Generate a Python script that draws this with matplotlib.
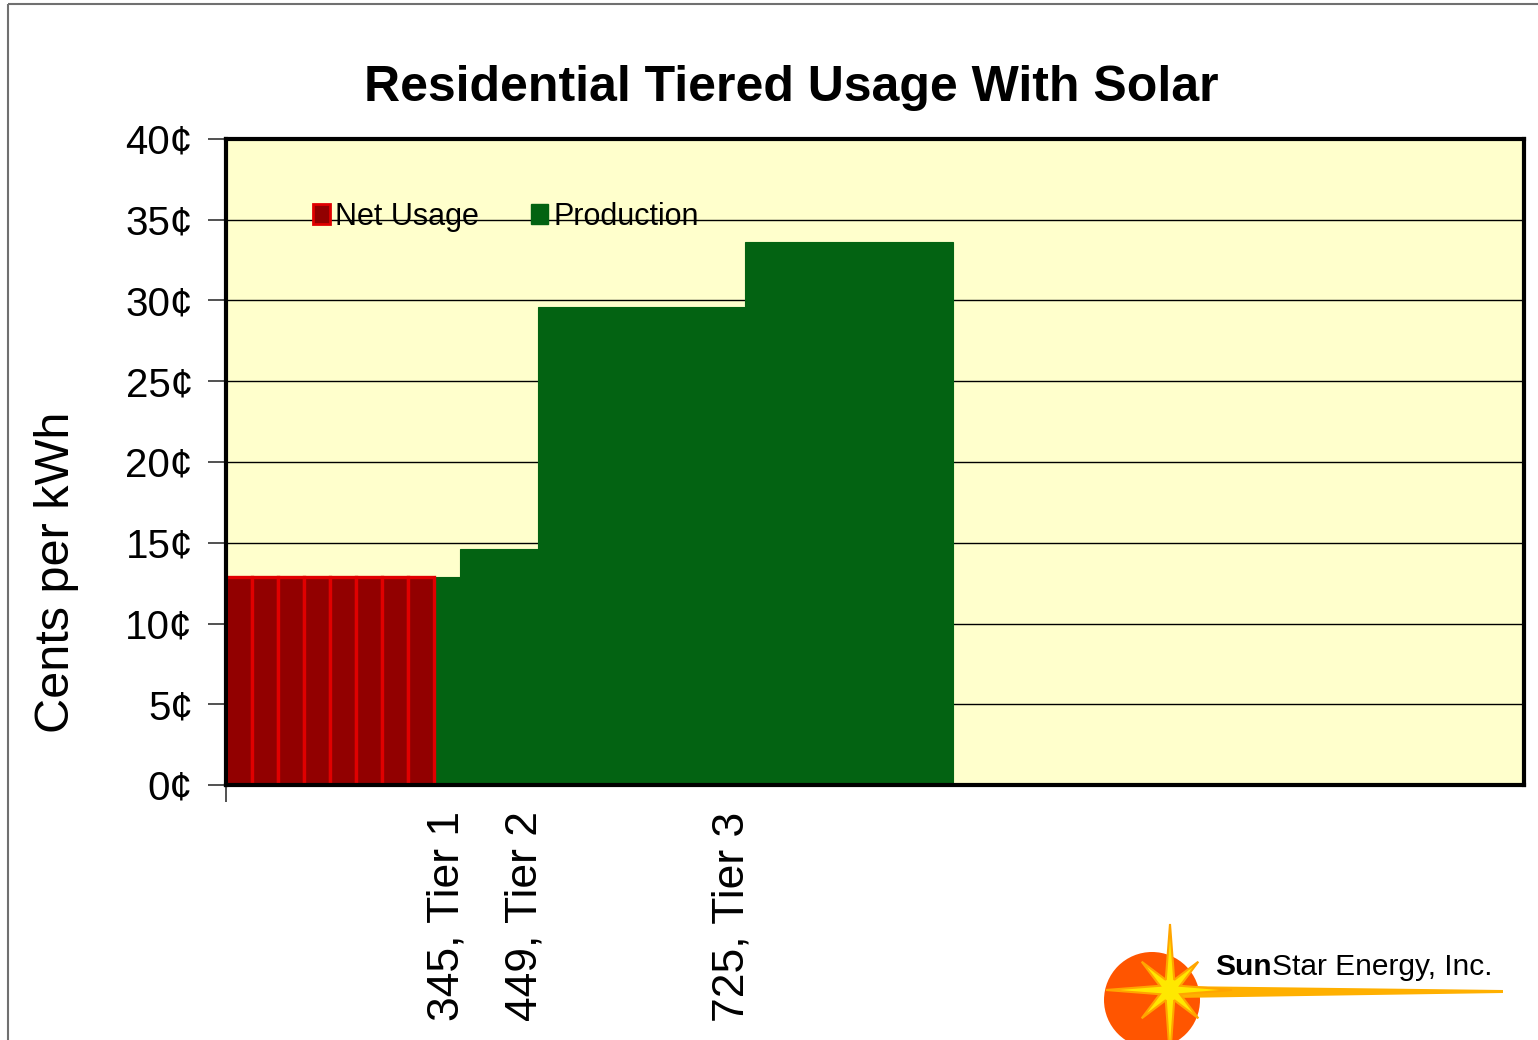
import numpy as np
import matplotlib as mpl
mpl.use('Agg')
import matplotlib.pyplot as plt
from matplotlib.patches import Patch, Circle, Polygon, Rectangle

plt.rcParams['font.family'] = ['Liberation Sans', 'DejaVu Sans']

# --- data (cents per kWh, one slot per usage block)
n_slots = 50
net_usage_slots = [0, 1, 2, 3, 4, 5, 6, 7]
net_usage = [12.9, 12.9, 12.9, 12.9, 12.9, 12.9, 12.9, 12.9]
production_slots = list(range(8, 28))
production = [12.9,
              14.6, 14.6, 14.6,
              29.6, 29.6, 29.6, 29.6, 29.6, 29.6, 29.6, 29.6,
              33.6, 33.6, 33.6, 33.6, 33.6, 33.6, 33.6, 33.6]
tier_slots = [8, 11, 19]
tier_labels = ['345, Tier 1', '449, Tier 2', '725, Tier 3']
yticks = [0, 5, 10, 15, 20, 25, 30, 35, 40]

W, H = 1538, 1040
fig = plt.figure(figsize=(W/100, H/100), dpi=100)
ax = fig.add_axes([226/W, 1-785/H, (1524-226)/W, (785-139)/H])
ax.set_facecolor('#FFFFCC')

green = '#036312'
ax.bar(production_slots, production, width=1.0, align='edge', color=green,
       edgecolor=green, linewidth=0.8, zorder=2)
ax.bar(net_usage_slots, net_usage, width=1.0, align='edge', color='#920000',
       edgecolor='#E00000', linewidth=2.4, zorder=3)

ax.set_xlim(0, n_slots)
ax.set_ylim(0, 40)
ax.set_yticks(yticks)
ax.set_yticklabels([f'{v}\u00a2' for v in yticks], fontsize=29)
ax.yaxis.grid(True, color='black', lw=1.0, zorder=1)
ax.set_axisbelow(True)
ax.tick_params(axis='y', length=13, width=1.2, color='#333333', pad=11)

ax.set_xticks([s + 0.5 for s in tier_slots])
ax.set_xticklabels(tier_labels, rotation=90, fontsize=32, va='top')
ax.tick_params(axis='x', length=0, pad=19)
ax.set_xticks([0], minor=True)
ax.tick_params(axis='x', which='minor', length=12, width=1.2, color='#333333')

for s in ax.spines.values():
    s.set_linewidth(3)
    s.set_color('black')
    s.set_zorder(5)

handles = [Patch(facecolor='#920000', edgecolor='#E00000', lw=2),
           Patch(facecolor=green, edgecolor=green)]
ax.legend(handles, ['Net Usage', 'Production'], ncol=2, frameon=False,
          fontsize=22, loc='center left',
          bbox_to_anchor=(0.067, 0.88), borderpad=0, borderaxespad=0,
          handlelength=0.55, handleheight=0.62, handletextpad=0.18,
          columnspacing=1.7)

fig.text(791/W, 1-88/H, 'Residential Tiered Usage With Solar', fontsize=36,
         fontweight='bold', ha='center', va='center')
fig.text(57/W, 1-572/H, 'Cents per kWh', fontsize=35, rotation=90,
         ha='center', va='center')

# --- outer frame and logo drawn in pixel coords
ov = fig.add_axes([0, 0, 1, 1], zorder=-1)
ov.set_xlim(0, W)
ov.set_ylim(H, 0)
ov.axis('off')
ov.add_patch(Rectangle((8, 4), W + 20, H + 20, fill=False, ec='#707070', lw=1.5))

lg = fig.add_axes([0, 0, 1, 1], zorder=6)
lg.set_xlim(0, W)
lg.set_ylim(H, 0)
lg.axis('off')
lg.patch.set_alpha(0)
lg.add_patch(Circle((1152, 1000), 48, color='#FF5500', lw=0))
# long ray to the right
lg.add_patch(Polygon([(1175, 986), (1503, 990), (1503, 993), (1175, 998)],
                     closed=True, color='#FFB000', lw=0))
cx, cy = 1170, 990
pts = []
rays = [(0, 66), (45, 40), (90, 62), (135, 40), (180, 68), (225, 40), (270, 64), (315, 40)]
for ang, r in rays:
    a = np.deg2rad(ang)
    pts.append((cx + r*np.sin(a), cy - r*np.cos(a)))
    a2 = np.deg2rad(ang + 22.5)
    pts.append((cx + 11*np.sin(a2), cy - 11*np.cos(a2)))
lg.add_patch(Polygon(pts, closed=True, fc='#FFE800', ec='#FFA500', lw=1.5))
sun = lg.text(1215, 975, 'Sun', fontsize=21.5, fontweight='bold', va='baseline', ha='left')
lg.annotate('Star Energy, Inc.', xy=(1, 0), xycoords=sun, fontsize=21.5,
            va='bottom', ha='left')

fig.savefig('out.png', dpi=100)
